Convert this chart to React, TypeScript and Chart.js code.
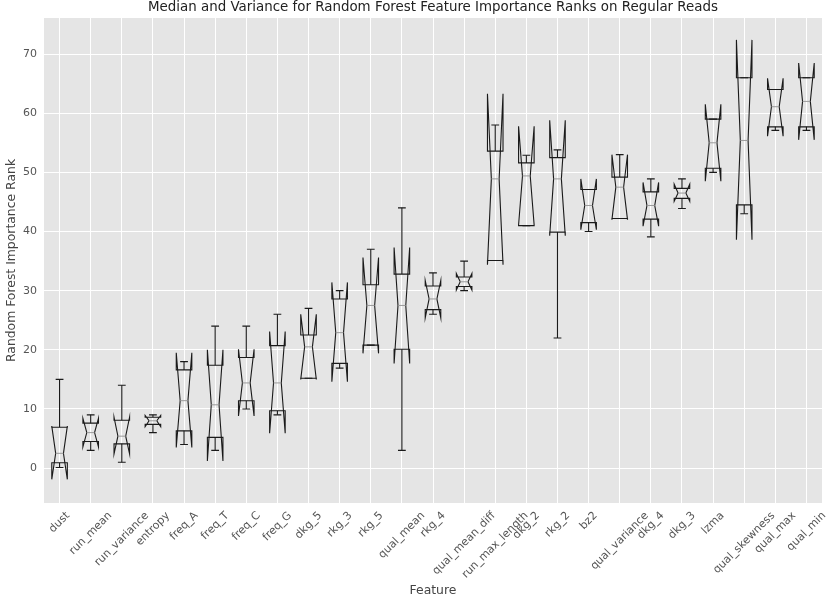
import React, { useEffect, useRef } from "react";
import { Chart, registerables } from "chart.js";

Chart.register(...registerables);

const features = [
  "dust", "run_mean", "run_variance", "entropy", "freq_A", "freq_T", "freq_C", "freq_G",
  "dkg_5", "rkg_3", "rkg_5", "qual_mean", "rkg_4", "qual_mean_diff", "run_max_length",
  "dkg_2", "rkg_2", "bz2", "qual_variance", "dkg_4", "dkg_3", "lzma", "qual_skewness",
  "qual_max", "qual_min",
];
const whiskerLow = [0.1, 3.0, 1.0, 6.0, 4.0, 3.0, 10.0, 9.0, 15.2, 16.9, 20.8, 3.0, 26.0, 30.0, 35.1, 41.0, 22.0, 40.0, 42.2, 39.1, 43.9, 50.0, 43.0, 57.1, 57.1];
const quartile1 = [0.9, 4.5, 4.1, 7.4, 6.3, 5.2, 11.4, 9.7, 15.2, 17.7, 20.8, 20.1, 26.8, 30.7, 35.1, 41.0, 39.9, 41.5, 42.2, 42.1, 45.6, 50.7, 44.5, 57.7, 57.7];
const medians = [2.5, 6.0, 5.4, 8.0, 11.4, 10.7, 14.4, 14.4, 20.5, 22.9, 27.5, 27.5, 28.6, 31.5, 48.9, 49.4, 48.9, 44.4, 47.5, 44.4, 46.5, 55.0, 55.4, 61.1, 62.0];
const quartile3 = [6.9, 7.6, 8.1, 8.6, 16.6, 17.4, 18.7, 20.7, 22.5, 28.6, 31.0, 32.8, 30.8, 32.3, 53.6, 51.6, 52.5, 47.1, 49.2, 46.7, 47.3, 59.0, 66.0, 64.0, 66.0];
const whiskerHigh = [15.0, 9.0, 14.0, 9.0, 18.0, 24.0, 24.0, 26.0, 27.0, 30.0, 37.0, 44.0, 33.0, 35.0, 58.0, 52.9, 53.8, 47.1, 53.0, 48.9, 48.9, 59.0, 66.0, 64.0, 66.0];
const notchLow = [-1.9, 3.6, 2.4, 7.0, 3.5, 1.2, 8.8, 5.9, 15.0, 14.6, 19.4, 17.7, 25.4, 30.1, 34.4, 41.1, 39.3, 40.3, 42.0, 40.9, 45.1, 48.5, 38.6, 56.1, 55.5];
const notchHigh = [7.1, 8.4, 8.6, 8.9, 19.5, 20.0, 20.1, 23.1, 26.0, 31.4, 35.6, 37.3, 31.7, 32.9, 63.3, 57.8, 58.8, 48.9, 53.0, 48.3, 48.0, 61.5, 72.4, 65.9, 68.5];
const yTickValues = [0, 10, 20, 30, 40, 50, 60, 70];

const TITLE = "Median and Variance for Random Forest Feature Importance Ranks on Regular Reads";
const X_TITLE = "Feature";
const Y_TITLE = "Random Forest Importance Rank";
const FONT = '"DejaVu Sans", sans-serif';

const boxPlugin = {
  id: "notchedBoxes",
  beforeDraw(chart: any) {
    const { ctx, chartArea } = chart;
    ctx.save();
    ctx.fillStyle = "#ffffff";
    ctx.fillRect(0, 0, chart.width, chart.height);
    ctx.fillStyle = "#e5e5e5";
    ctx.fillRect(chartArea.left, chartArea.top, chartArea.right - chartArea.left, chartArea.bottom - chartArea.top);
    ctx.restore();
  },
  afterDatasetsDraw(chart: any) {
    const { ctx } = chart;
    const xs = chart.scales.x;
    const ys = chart.scales.y;
    const step = Math.abs(xs.getPixelForValue(1) - xs.getPixelForValue(0));
    const hw = step * 0.25;
    const nw = hw * 0.5;
    const cw = hw * 0.5;
    const Y = (v: number) => ys.getPixelForValue(v);
    ctx.save();
    ctx.lineJoin = "miter";
    for (let i = 0; i < features.length; i++) {
      const x = xs.getPixelForValue(i);
      ctx.strokeStyle = "#1a1a1a";
      ctx.lineWidth = 1.1;
      ctx.beginPath();
      ctx.moveTo(x - hw, Y(quartile1[i]));
      ctx.lineTo(x - hw, Y(notchLow[i]));
      ctx.lineTo(x - nw, Y(medians[i]));
      ctx.lineTo(x - hw, Y(notchHigh[i]));
      ctx.lineTo(x - hw, Y(quartile3[i]));
      ctx.lineTo(x + hw, Y(quartile3[i]));
      ctx.lineTo(x + hw, Y(notchHigh[i]));
      ctx.lineTo(x + nw, Y(medians[i]));
      ctx.lineTo(x + hw, Y(notchLow[i]));
      ctx.lineTo(x + hw, Y(quartile1[i]));
      ctx.closePath();
      ctx.stroke();
      ctx.beginPath();
      ctx.moveTo(x, Y(quartile1[i]));
      ctx.lineTo(x, Y(whiskerLow[i]));
      ctx.moveTo(x, Y(quartile3[i]));
      ctx.lineTo(x, Y(whiskerHigh[i]));
      ctx.stroke();
      ctx.beginPath();
      ctx.moveTo(x - cw, Y(whiskerLow[i]));
      ctx.lineTo(x + cw, Y(whiskerLow[i]));
      ctx.moveTo(x - cw, Y(whiskerHigh[i]));
      ctx.lineTo(x + cw, Y(whiskerHigh[i]));
      ctx.stroke();
      ctx.strokeStyle = "#9a9a9a";
      ctx.lineWidth = 1;
      ctx.beginPath();
      ctx.moveTo(x - nw, Y(medians[i]));
      ctx.lineTo(x + nw, Y(medians[i]));
      ctx.stroke();
    }
    ctx.restore();
  },
  afterDraw(chart: any) {
    const { ctx, chartArea } = chart;
    const xs = chart.scales.x;
    ctx.save();
    ctx.font = `11px ${FONT}`;
    ctx.fillStyle = "#555555";
    ctx.textAlign = "center";
    ctx.textBaseline = "middle";
    const h = 11;
    const top = chartArea.bottom + 7;
    for (let i = 0; i < features.length; i++) {
      const x = xs.getPixelForValue(i);
      const w = ctx.measureText(features[i]).width;
      const box = (w + h) * Math.SQRT1_2;
      ctx.save();
      ctx.translate(x, top + box / 2);
      ctx.rotate(-Math.PI / 4);
      ctx.fillText(features[i], 0, 0);
      ctx.restore();
    }
    const cx = (chartArea.left + chartArea.right) / 2;
    const cy = (chartArea.top + chartArea.bottom) / 2;
    ctx.font = `12.4px ${FONT}`;
    ctx.fillStyle = "#444444";
    ctx.fillText(X_TITLE, cx, 591);
    ctx.save();
    ctx.translate(12, cy);
    ctx.rotate(-Math.PI / 2);
    ctx.fillText(Y_TITLE, 0, 0);
    ctx.restore();
    ctx.font = `13.4px ${FONT}`;
    ctx.fillStyle = "#222222";
    ctx.fillText(TITLE, cx, 8);
    ctx.restore();
  },
};

export default function App() {
  const canvasRef = useRef<HTMLCanvasElement | null>(null);
  useEffect(() => {
    document.body.style.margin = "0";
    const canvas = canvasRef.current;
    if (!canvas) return;
    const chart = new Chart(canvas, {
      type: "line",
      data: {
        labels: features,
        datasets: [
          {
            label: "median",
            data: medians,
            showLine: false,
            pointRadius: 0,
            pointHoverRadius: 0,
            borderColor: "rgba(0,0,0,0)",
            backgroundColor: "rgba(0,0,0,0)",
          },
        ],
      },
      options: {
        animation: false,
        responsive: false,
        devicePixelRatio: 1,
        layout: { padding: { top: 18, right: 6, left: 0, bottom: 0 } },
        plugins: {
          legend: { display: false },
          title: { display: false },
          tooltip: { enabled: false },
        },
        scales: {
          x: {
            type: "category",
            offset: true,
            border: { display: false },
            grid: { color: "#ffffff", lineWidth: 1, offset: false, drawTicks: false },
            ticks: { display: false },
            afterFit: (s: any) => {
              s.height = 98;
            },
          },
          y: {
            type: "linear",
            min: -5.9,
            max: 76.1,
            border: { display: false },
            grid: { color: "#ffffff", lineWidth: 1, drawTicks: false },
            afterBuildTicks: (s: any) => {
              s.ticks = yTickValues.map((v) => ({ value: v }));
            },
            ticks: {
              stepSize: 10,
              includeBounds: false,
              color: "#555555",
              padding: 7,
              font: { family: FONT, size: 11 },
            },
            afterFit: (s: any) => {
              s.width = 44;
            },
          },
        },
      },
      plugins: [boxPlugin],
    });
    return () => chart.destroy();
  }, []);
  return (
    <div style={{ width: 828, height: 601 }}>
      <canvas ref={canvasRef} width={828} height={601} />
    </div>
  );
}
